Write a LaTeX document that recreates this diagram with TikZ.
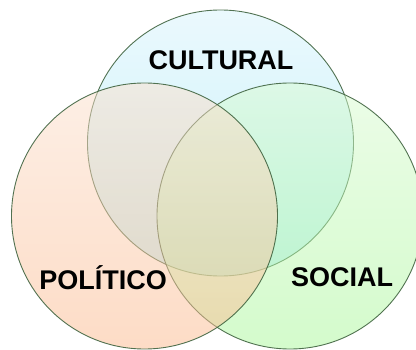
\documentclass[tikz,border=0pt]{standalone}
\usepackage{fontspec}
\setmainfont{Liberation Sans}
\definecolor{rim}{RGB}{64,100,64}
\tikzset{
  venn/.style={circle, draw=rim, line width=0.9pt, draw opacity=0.9, fill opacity=0.5, minimum size=266pt, inner sep=0pt},
  tag/.style={font=\fontsize{27}{27}\selectfont\bfseries, inner sep=0pt}
}

\begin{document}
\begin{tikzpicture}[x=1pt, y=-1pt]
      \useasboundingbox (0,0) rectangle (416,350);
      \clip (0,0) rectangle (416,350);
      \node (cultural)[venn, top color={rgb,255:red,215;green,243;blue,252}, bottom color={rgb,255:red,140;green,228;blue,245}] at (220.5,143){};
      \node (social)[venn, top color={rgb,255:red,217;green,251;blue,209}, bottom color={rgb,255:red,169;green,247;blue,153}] at (290,216){};
      \node (politico)[venn, top color={rgb,255:red,251;green,224;blue,205}, bottom color={rgb,255:red,251;green,185;blue,141}] at (144.5,216){};
      \node (lcultural)[tag] at (221,60){CULTURAL};
      \node (lpolitico)[tag] at (103,278){POLÍTICO};
      \node (lsocial)[tag] at (342,277){SOCIAL};
    \end{tikzpicture}
\end{document}
